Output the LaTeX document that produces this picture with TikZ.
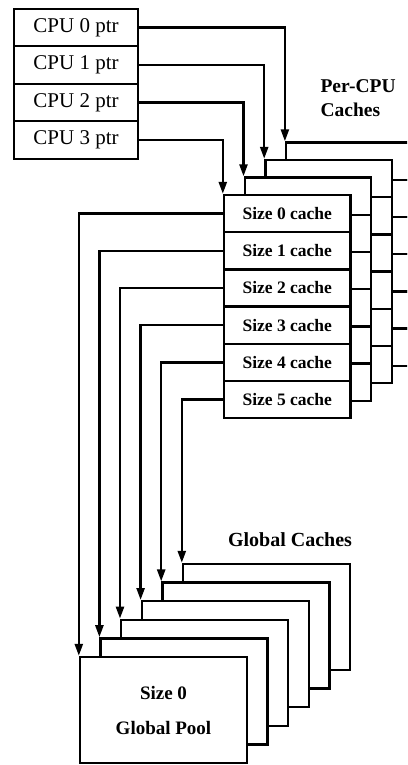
\documentclass[tikz,border=0pt]{standalone}
\usepackage{fontspec}
\setmainfont{Liberation Serif}
\usetikzlibrary{arrows.meta}

\begin{document}
\begin{tikzpicture}[
    x=1pt, y=-1pt,
    line width=2.4pt,
    cpurow/.style={draw, fill=white, minimum width=124pt, minimum height=37.5pt, inner sep=0pt,
                   font=\fontsize{21}{21}\selectfont},
    cacherow/.style={draw, fill=white, minimum width=126.5pt, minimum height=37.2pt, inner sep=0pt,
                     font=\bfseries\fontsize{17.5}{17.5}\selectfont},
    poolbox/.style={draw, fill=white, minimum width=167pt, minimum height=106pt, inner sep=0pt,
                    align=center, font=\bfseries\fontsize{19}{35}\selectfont},
    ptr/.style={-{Triangle[length=12pt,width=8pt]}}
]

% marco de la figura (pixeles, y hacia abajo)
\useasboundingbox (0,0) rectangle (407,765);
\clip (0,0) rectangle (407,765);

% 1. Punteros por CPU
\foreach \i in {0,...,3}
  \node[cpurow] (cpu\i) at (76, 27.5+37.5*\i) {\raisebox{-2pt}{CPU \i\ ptr}};

% 2. Caches por CPU (de atras hacia delante)
\foreach \bx in {3,2,1} {
  \foreach \j in {0,...,5}
    \node[cacherow] (pc\bx-\j) at (287.25+20.7*\bx, 213.6-17.5*\bx+37.2*\j) {};
}
\foreach \j in {0,...,5}
  \node[cacherow] (pc0-\j) at (287.25, 213.6+37.2*\j) {\raisebox{-2pt}{Size \j\ cache}};

\node[anchor=west, align=left, font=\bfseries\fontsize{19.5}{24}\selectfont] (percpu) at (316, 98) {Per-CPU\\Caches};

% flechas CPU -> cache
\foreach \i [evaluate=\i as \bx using int(3-\i)] in {0,...,3}
  \draw[ptr] (cpu\i.east) -| (pc\bx-0.north west);

% 3. Caches globales (de atras hacia delante)
\foreach \g in {5,...,1}
  \node[poolbox] (gp\g) at (163.5+20.6*\g, 710-18.6*\g) {};
\node[poolbox] (gp0) at (163.5, 710) {Size 0\\Global Pool};

\node[font=\bfseries\fontsize{20}{20}\selectfont] (glob) at (290, 540) {Global Caches};

% flechas cache -> pool global
\foreach \j in {0,...,5}
  \draw[ptr] (pc0-\j.west) -| (gp\j.north west);

\end{tikzpicture}
\end{document}
